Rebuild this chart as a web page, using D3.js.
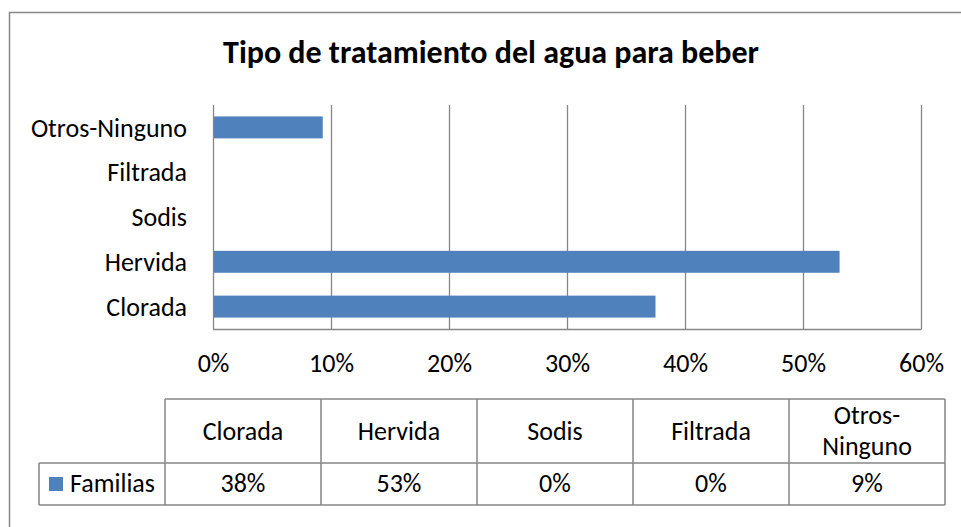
<!DOCTYPE html>
<html><head><meta charset="utf-8">
<script src="https://cdn.jsdelivr.net/npm/d3@7"></script>
<style>html,body{margin:0;padding:0;background:#fff;}svg{display:block;}</style>
</head><body>
<svg id="chart" width="961" height="527"></svg>
<script>
const categories = ["Clorada", "Hervida", "Sodis", "Filtrada", "Otros-Ninguno"];
const values = [0.375, 0.531, 0, 0, 0.093];
const tableValues = ["38%", "53%", "0%", "0%", "9%"];
const seriesName = "Familias";
const xTicks = [0, 0.1, 0.2, 0.3, 0.4, 0.5, 0.6];
const title = "Tipo de tratamiento del agua para beber";

const FONT = "Carlito, Calibri, Lato, sans-serif";
const FS = 26;
const barColor = "#4F81BD";
const gridColor = "#868686";

const svg = d3.select("#chart");

// outer frame
svg.append("rect").attr("x", 9.5).attr("y", 12.5).attr("width", 960).attr("height", 540)
  .attr("fill", "none").attr("stroke", "#888").attr("stroke-width", 1.5);

// title
svg.append("text").attr("x", 491).attr("y", 63).attr("text-anchor", "middle")
  .attr("font-family", FONT).attr("font-weight", "bold").attr("font-size", 32)
  .attr("fill", "#000").text(title);

const x = d3.scaleLinear().domain([0, 0.6]).range([213, 921]);
const y = d3.scaleBand().domain(categories.slice().reverse()).range([105, 329])
  .paddingInner(0.51).paddingOuter(0.255);
const yFull = d3.scaleBand().domain(categories.slice().reverse()).range([105, 329]);

// gridlines
svg.append("g").selectAll("line").data(xTicks.slice(1)).join("line")
  .attr("x1", d => Math.round(x(d)) + 0.5).attr("x2", d => Math.round(x(d)) + 0.5)
  .attr("y1", 105).attr("y2", 329)
  .attr("stroke", gridColor).attr("stroke-width", 1.3);

// bars
svg.append("g").selectAll("rect").data(categories.map((c, i) => ({c, v: values[i]})).filter(d => d.v > 0))
  .join("rect")
  .attr("x", x(0)).attr("y", d => y(d.c))
  .attr("width", d => x(d.v) - x(0)).attr("height", y.bandwidth())
  .attr("fill", barColor);

// axes lines
svg.append("line").attr("x1", 213.5).attr("x2", 213.5).attr("y1", 105).attr("y2", 329.5)
  .attr("stroke", gridColor).attr("stroke-width", 1.3);
svg.append("line").attr("x1", 213).attr("x2", 921.5).attr("y1", 329.5).attr("y2", 329.5)
  .attr("stroke", gridColor).attr("stroke-width", 1.3);

// x tick labels
const xAxis = d3.axisBottom(x).tickValues(xTicks).tickFormat(d3.format(".0%")).tickSize(0).tickPadding(0);
const xg = svg.append("g").attr("transform", "translate(0,372)").call(xAxis);
xg.select(".domain").remove();
xg.selectAll("text").attr("dy", 0).attr("y", 0).attr("font-family", FONT).attr("font-size", FS).attr("fill", "#000");

// y labels
const yAxis = d3.axisLeft(yFull).tickSize(0).tickPadding(0);
const yg = svg.append("g").attr("transform", "translate(187,0)").call(yAxis);
yg.select(".domain").remove();
yg.selectAll("text").attr("x", 0).attr("dy", "0.35em").attr("font-family", FONT).attr("font-size", FS).attr("fill", "#000");

// data table
const col = d3.scaleBand().domain(categories).range([165, 945]);
const tTop = 399, tMid = 463, tBot = 505, tLeft = 39;
const tg = svg.append("g").attr("stroke", gridColor).attr("stroke-width", 1.5).attr("fill", "none");
tg.append("line").attr("x1", 165).attr("x2", 945).attr("y1", tTop).attr("y2", tTop);
tg.append("line").attr("x1", tLeft).attr("x2", 945).attr("y1", tMid).attr("y2", tMid);
tg.append("line").attr("x1", tLeft).attr("x2", 945).attr("y1", tBot).attr("y2", tBot);
tg.append("line").attr("x1", tLeft).attr("x2", tLeft).attr("y1", tMid).attr("y2", tBot);
tg.selectAll(".v").data(categories.concat(["__end"])).join("line")
  .attr("x1", d => d === "__end" ? 945 : col(d)).attr("x2", d => d === "__end" ? 945 : col(d))
  .attr("y1", tTop).attr("y2", tBot);

// header text
const hdr = svg.append("g").attr("font-family", FONT).attr("font-size", FS).attr("fill", "#000").attr("text-anchor", "middle");
categories.forEach(c => {
  const parts = c.includes("-") ? [c.slice(0, c.indexOf("-") + 1), c.slice(c.indexOf("-") + 1)] : [c];
  const cx = col(c) + col.bandwidth() / 2;
  const t = hdr.append("text").attr("x", cx);
  if (parts.length === 1) {
    t.attr("y", 440).text(c);
  } else {
    t.attr("y", 424).text(parts[0]);
    hdr.append("text").attr("x", cx).attr("y", 455).text(parts[1]);
  }
});

// data row
const row = svg.append("g").attr("font-family", FONT).attr("font-size", FS).attr("fill", "#000");
row.append("rect").attr("x", 49).attr("y", 477).attr("width", 14).attr("height", 14).attr("fill", barColor);
row.append("text").attr("x", 70).attr("y", 492).text(seriesName);
row.selectAll(".val").data(categories.map((c, i) => ({c, t: tableValues[i]}))).join("text")
  .attr("x", d => col(d.c) + col.bandwidth() / 2).attr("y", 492).attr("text-anchor", "middle").text(d => d.t);
</script>
</body></html>
